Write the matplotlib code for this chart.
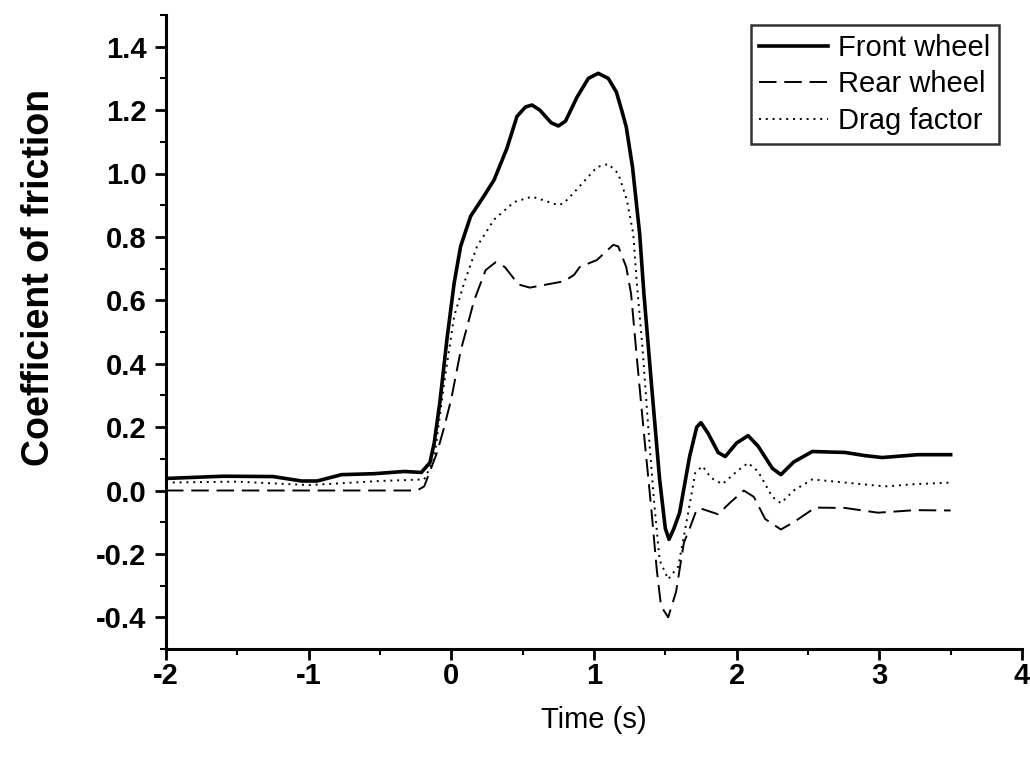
import matplotlib
matplotlib.use("Agg")
import matplotlib.pyplot as plt
from matplotlib.ticker import MultipleLocator, FormatStrFormatter

# Front wheel (solid)
front_t = [-2.0, -1.6, -1.25, -1.05, -0.94, -0.77, -0.54, -0.33, -0.21, -0.15, -0.12,
           -0.08, -0.03, 0.02, 0.065, 0.135, 0.23, 0.30, 0.39, 0.46, 0.52, 0.565, 0.62,
           0.70, 0.75, 0.80, 0.88, 0.96, 1.03, 1.10, 1.157, 1.20, 1.226, 1.27, 1.32, 1.35,
           1.40, 1.46, 1.50, 1.526, 1.56, 1.60, 1.67, 1.72, 1.75, 1.80, 1.87, 1.92, 2.00,
           2.08, 2.15, 2.25, 2.31, 2.40, 2.53, 2.76, 2.90, 3.02, 3.27, 3.50]
front_mu = [0.038, 0.045, 0.044, 0.030, 0.030, 0.050, 0.053, 0.060, 0.057, 0.088, 0.15,
            0.28, 0.48, 0.655, 0.77, 0.865, 0.93, 0.98, 1.08, 1.18, 1.21, 1.216, 1.20,
            1.16, 1.15, 1.165, 1.24, 1.30, 1.316, 1.30, 1.257, 1.19, 1.147, 1.02, 0.81, 0.62,
            0.35, 0.035, -0.12, -0.154, -0.12, -0.07, 0.107, 0.20, 0.214, 0.18, 0.12, 0.107, 0.15,
            0.173, 0.14, 0.07, 0.05, 0.09, 0.123, 0.12, 0.11, 0.104, 0.113, 0.113]

# Rear wheel (dashed)
rear_t = [-2.0, -1.5, -1.0, -0.5, -0.24, -0.19, -0.10, -0.05, 0.0, 0.065, 0.16, 0.24,
          0.31, 0.375, 0.47, 0.55, 0.67, 0.79, 0.86, 0.90, 1.02, 1.135, 1.17, 1.226, 1.26,
          1.30, 1.35, 1.40, 1.44, 1.47, 1.52, 1.575, 1.63, 1.67, 1.72, 1.75, 1.87, 1.95,
          2.05, 2.12, 2.20, 2.31, 2.40, 2.55, 2.76, 2.99, 3.25, 3.50]
rear_mu = [0.0, 0.0, 0.0, 0.0, 0.0, 0.013, 0.12, 0.20, 0.29, 0.44, 0.60, 0.695,
           0.72, 0.705, 0.65, 0.64, 0.65, 0.66, 0.68, 0.705, 0.727, 0.775, 0.77, 0.705, 0.62,
           0.42, 0.18, -0.05, -0.25, -0.365, -0.40, -0.32, -0.165, -0.12, -0.06, -0.057, -0.075, -0.04,
           0.0, -0.02, -0.09, -0.123, -0.10, -0.054, -0.055, -0.07, -0.062, -0.063]

# Drag factor (dotted)
drag_t = [-2.0, -1.5, -1.0, -0.5, -0.19, -0.12, -0.05, 0.02, 0.09, 0.18, 0.30, 0.44,
          0.565, 0.65, 0.75, 0.79, 0.88, 1.02, 1.10, 1.17, 1.23, 1.275, 1.30, 1.34, 1.38,
          1.42, 1.46, 1.52, 1.59, 1.63, 1.68, 1.71, 1.76, 1.82, 1.90, 2.00, 2.08, 2.15,
          2.25, 2.31, 2.40, 2.53, 2.76, 3.04, 3.25, 3.50]
drag_mu = [0.025, 0.028, 0.017, 0.030, 0.035, 0.10, 0.34, 0.55, 0.655, 0.77, 0.855, 0.91,
           0.927, 0.915, 0.90, 0.907, 0.95, 1.02, 1.03, 1.00, 0.917, 0.81, 0.655, 0.45, 0.20,
           -0.03, -0.22, -0.28, -0.24, -0.145, -0.02, 0.056, 0.077, 0.04, 0.02, 0.06, 0.087, 0.06,
           -0.02, -0.04, 0.0, 0.035, 0.025, 0.013, 0.02, 0.025]

x_ticks = [-2, -1, 0, 1, 2, 3, 4]
y_ticks = [-0.4, -0.2, 0.0, 0.2, 0.4, 0.6, 0.8, 1.0, 1.2, 1.4]

plt.rcParams['font.family'] = ['Liberation Sans', 'DejaVu Sans']
plt.rcParams['axes.unicode_minus'] = False

fig = plt.figure(figsize=(10.30, 7.59), dpi=100)
ax = fig.add_axes([166/1030, 1 - 649/759, (1022-166)/1030, (649-15)/759])

ax.plot(front_t, front_mu, color='black', lw=2.6, solid_joinstyle='round', label='Front wheel')
ax.plot(rear_t, rear_mu, color='black', lw=1.4, linestyle=(0, (9, 4)), label='Rear wheel')
ax.plot(drag_t, drag_mu, color='black', lw=1.4, linestyle=(0, (1, 2.5)), label='Drag factor')

ax.set_xlim(-2, 4)
ax.set_ylim(-0.5, 1.5)
ax.set_xticks(x_ticks)
ax.set_yticks(y_ticks)
ax.xaxis.set_minor_locator(MultipleLocator(0.5))
ax.yaxis.set_minor_locator(MultipleLocator(0.1))
ax.yaxis.set_major_formatter(FormatStrFormatter('%.1f'))

for s in ['top', 'right']:
    ax.spines[s].set_visible(False)
for s in ['left', 'bottom']:
    ax.spines[s].set_linewidth(2.2)

ax.tick_params(which='major', direction='out', length=8, width=2, labelsize=21)
ax.tick_params(axis='y', which='major', pad=6)
ax.tick_params(axis='x', which='major', pad=1)
ax.tick_params(which='minor', direction='out', length=4, width=1.5)
for lab in ax.get_xticklabels() + ax.get_yticklabels():
    lab.set_fontweight('bold')

ax.set_xlabel('Time (s)', fontsize=21, labelpad=12)
ax.set_ylabel('Coefficient of friction', fontsize=27, fontweight='bold')
ax.yaxis.set_label_coords((57 - 166) / 856, (649 - 277) / 634)

leg = ax.legend(loc='upper right', bbox_to_anchor=(999/1030, 1 - 25/759), bbox_transform=fig.transFigure,
                fontsize=21, frameon=True, fancybox=False, edgecolor='black',
                handlelength=2.35, handletextpad=0.35, borderpad=0.3, labelspacing=0.3,
                borderaxespad=0)
leg.get_frame().set_linewidth(1.8)

fig.savefig('out.png', dpi=100)
